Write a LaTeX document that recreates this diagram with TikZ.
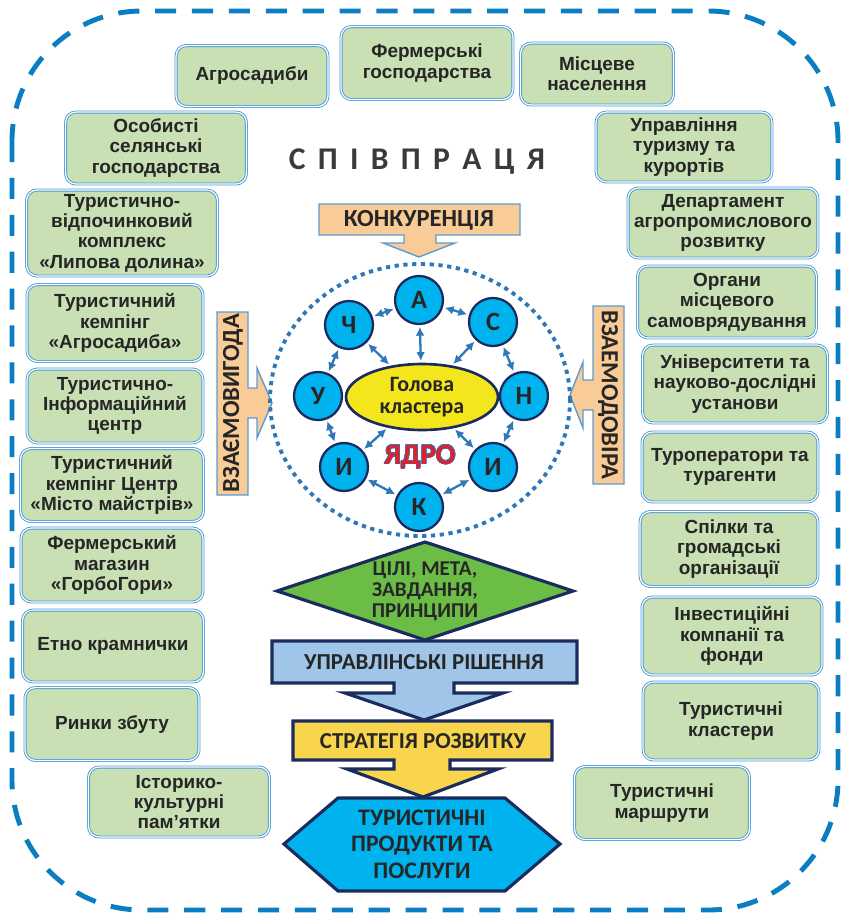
\documentclass[tikz,border=0pt]{standalone}
\usepackage{fontspec}
\setmainfont{Liberation Sans}
\newfontfamily\calib{Carlito}
\usepackage{contour}
\contourlength{0.3pt}
\usepackage{tikz}
\usetikzlibrary{shapes.geometric,arrows.meta}

\definecolor{boxfill}{HTML}{C8E0B4}
\definecolor{boxline}{HTML}{4A9AD6}
\definecolor{frameblue}{HTML}{0B7DC3}
\definecolor{ringblue}{HTML}{2E78B7}
\definecolor{navy}{HTML}{1B2B5E}
\definecolor{cyanball}{HTML}{00B2EE}
\definecolor{headyel}{HTML}{F4E61C}
\definecolor{peach}{HTML}{F9CB96}
\definecolor{peachline}{HTML}{5B9BD5}
\definecolor{goalgreen}{HTML}{6BBD45}
\definecolor{mgmtblue}{HTML}{9FC6E8}
\definecolor{stratyel}{HTML}{F9D54E}
\definecolor{textdark}{HTML}{262626}
\definecolor{titlegray}{HTML}{3A3A3A}
\definecolor{corered}{HTML}{E3202A}

\newcommand{\tsp}{\hspace{7pt}}

\tikzset{
  grbox/.style={draw=boxline, double=white, double distance=0.7pt, line width=0.5pt,
    fill=boxfill, rounded corners=6pt, align=center, text=textdark, inner sep=2pt,
    font=\bfseries\fontsize{10.8}{11.6}\selectfont},
  ball/.style={circle, draw=navy, line width=1.3pt, fill=cyanball, minimum size=0.96cm,
    inner sep=0pt, text=textdark, font=\calib\bfseries\fontsize{15}{15}\selectfont},
  headell/.style={ellipse, draw=navy, line width=1.5pt, fill=headyel, minimum width=3.04cm,
    minimum height=1.32cm, inner sep=0pt, align=center, text=textdark,
    font=\calib\bfseries\fontsize{12.5}{12.5}\selectfont},
  link/.style={{Latex[length=5pt,width=5pt]}-{Latex[length=5pt,width=5pt]}, draw=ringblue,
    line width=1.3pt, shorten <=1pt, shorten >=1pt},
  callout/.style={fill=peach, draw=peachline, line width=0.8pt},
  callouttext/.style={text=textdark, font=\calib\bfseries\fontsize{14}{14}\selectfont},
  flow/.style={draw=navy, line width=1.8pt, line join=miter},
  flowtext/.style={text=textdark, align=center, font=\calib\bfseries\fontsize{13}{14.8}\selectfont},
}

\begin{document}
\begin{tikzpicture}[x=0.02cm, y=-0.02cm]
  \useasboundingbox (0,0) rectangle (841,914);

  % outer frame
  \draw[frameblue, line width=2.8pt, dash pattern=on 12pt off 9pt, rounded corners=2.6cm]
    (12,11) rectangle (838,910);

  \node[titlegray, font=\calib\bfseries\fontsize{18}{18}\selectfont] (title) at (417,162)
    {С\tsp П\tsp І\tsp В\tsp П\tsp Р\tsp А\tsp Ц\tsp Я};

  % partners, top and left
  \node[grbox, minimum width=3.04cm, minimum height=1.22cm] (agro) at (252,76) {Агросадиби};
  \node[grbox, minimum width=3.44cm, minimum height=1.46cm] (ferm) at (427,63) {Фермерські\\господарства};
  \node[grbox, minimum width=3.06cm, minimum height=1.24cm] (misc) at (597,74) {Місцеве\\населення};
  \node[grbox, minimum width=3.62cm, minimum height=1.44cm] (osob) at (156,148) {Особисті\\селянські\\господарства};
  \node[grbox, minimum width=3.82cm, minimum height=1.72cm] (lypa) at (122,233) {Туристично-\\відпочинковий\\комплекс\\«Липова долина»};
  \node[grbox, minimum width=3.52cm, minimum height=1.54cm] (kemp) at (115,323) {Туристичний\\кемпінг\\«Агросадиба»};
  \node[grbox, minimum width=3.52cm, minimum height=1.48cm] (info) at (115,406) {Туристично-\\Інформаційний\\центр};
  \node[grbox, minimum width=3.66cm, minimum height=1.46cm] (mist) at (112,485) {Туристичний\\кемпінг Центр\\«Місто майстрів»};
  \node[grbox, minimum width=3.64cm, minimum height=1.48cm] (magz) at (112,565) {Фермерський\\магазин\\«ГорбоГори»};
  \node[grbox, minimum width=3.62cm, minimum height=1.44cm] (etno) at (113,646) {Етно крамнички};
  \node[grbox, minimum width=3.48cm, minimum height=1.46cm] (rynk) at (112,724) {Ринки збуту};
  \node[grbox, minimum width=3.62cm, minimum height=1.40cm] (ist) at (179,802) {Історико-\\культурні\\пам’ятки};

  % partners, right
  \node[grbox, minimum width=3.52cm, minimum height=1.40cm] (uprt) at (684,147) {Управління\\туризму та\\курортів};
  \node[grbox, minimum width=3.80cm, minimum height=1.40cm] (dept) at (723,223) {Департамент\\агропромислового\\розвитку};
  \node[grbox, minimum width=3.58cm, minimum height=1.44cm] (orhn) at (727,302) {Органи\\місцевого\\самоврядування};
  \node[grbox, minimum width=3.70cm, minimum height=1.56cm] (univ) at (735,384) {Університети та\\науково-дослідні\\установи};
  \node[grbox, minimum width=3.52cm, minimum height=1.40cm] (turop) at (730,467) {Туроператори та\\турагенти};
  \node[grbox, minimum width=3.56cm, minimum height=1.50cm] (spil) at (729,549) {Спілки та\\громадські\\організації};
  \node[grbox, minimum width=3.60cm, minimum height=1.56cm] (inv) at (732,636) {Інвестиційні\\компанії та\\фонди};
  \node[grbox, minimum width=3.52cm, minimum height=1.56cm] (klast) at (731,721) {Туристичні\\кластери};
  \node[grbox, minimum width=3.50cm, minimum height=1.46cm] (marsh) at (662,803) {Туристичні\\маршрути};

  % callouts round the core
  \draw[callout] (319,204) -- (520,204) -- (520,235) -- (436,235) -- (436,243) -- (455,243)
    -- (419,257) -- (383,243) -- (404,243) -- (404,235) -- (319,235) -- cycle;
  \node[callouttext] (konk) at (419,220) {КОНКУРЕНЦІЯ};

  \draw[callout] (217,312) -- (248,312) -- (248,388) -- (257,388) -- (257,368) -- (272,403)
    -- (257,438) -- (257,418) -- (248,418) -- (248,495) -- (217,495) -- cycle;
  \node[callouttext, rotate=90] (vyhoda) at (233,403) {ВЗАЄМОВИГОДА};

  \draw[callout] (624,306) -- (593,306) -- (593,380) -- (583,380) -- (583,362) -- (570,395)
    -- (583,428) -- (583,410) -- (593,410) -- (593,484) -- (624,484) -- cycle;
  \node[callouttext, rotate=-90] (dovira) at (608,395) {ВЗАЕМОДОВІРА};

  % core
  \draw[ringblue, line width=2.2pt, dash pattern=on 2.4pt off 2.6pt] (420,400) ellipse (3cm and 2.72cm);

  \node[ball] (a) at (419,300) {А};
  \node[ball] (s) at (493,322) {С};
  \node[ball] (ch) at (349,325) {Ч};
  \node[ball] (u) at (318,396) {У};
  \node[ball] (n) at (524,396) {Н};
  \node[ball] (il) at (344,467) {И};
  \node[ball] (ir) at (493,467) {И};
  \node[ball] (k) at (419,507) {К};
  \node[headell] (core) at (422,397) {Голова\\кластера};
  \node[text=corered, font=\calib\bfseries\fontsize{16.5}{16.5}\selectfont] (yadro) at (420,457)
    {\contour{ringblue}{ЯДРО}};

  \draw[link] (ch) -- (a);
  \draw[link] (a) -- (s);
  \draw[link] (ch) -- (u);
  \draw[link] (s) -- (n);
  \draw[link] (u) -- (il);
  \draw[link] (n) -- (ir);
  \draw[link] (il) -- (k);
  \draw[link] (k) -- (ir);
  \draw[link] (a) -- (core);
  \draw[link] (ch) -- (core);
  \draw[link] (s) -- (core);
  \draw[link] (il) -- (core);
  \draw[link] (ir) -- (core);

  % flow down
  \draw[flow, fill=goalgreen] (277,591) -- (425,542) -- (573,591) -- (425,640) -- cycle;
  \node[flowtext, font=\calib\bfseries\fontsize{12}{12}\selectfont] (goals) at (425,591)
    {ЦІЛІ, МЕТА,\\ЗАВДАННЯ,\\ПРИНЦИПИ};

  \draw[flow, fill=mgmtblue] (272,641) -- (577,641) -- (577,683) -- (454,683) -- (454,693)
    -- (503,693) -- (424,720) -- (345,693) -- (394,693) -- (394,683) -- (272,683) -- cycle;
  \node[flowtext] (mgmt) at (424,662) {УПРАВЛІНСЬКІ РІШЕННЯ};

  \draw[flow, fill=stratyel] (293,721) -- (552,721) -- (552,760) -- (450,760) -- (450,769)
    -- (498,769) -- (423,797) -- (347,769) -- (394,769) -- (394,760) -- (293,760) -- cycle;
  \node[flowtext] (strat) at (423,741) {СТРАТЕГІЯ РОЗВИТКУ};

  \draw[flow, fill=cyanball] (284,844) -- (338,798) -- (505,798) -- (560,844) -- (505,891)
    -- (338,891) -- cycle;
  \node[flowtext, font=\calib\bfseries\fontsize{13.5}{15}\selectfont] (prod) at (422,844)
    {ТУРИСТИЧНІ\\ПРОДУКТИ ТА\\ПОСЛУГИ};
\end{tikzpicture}
\end{document}
